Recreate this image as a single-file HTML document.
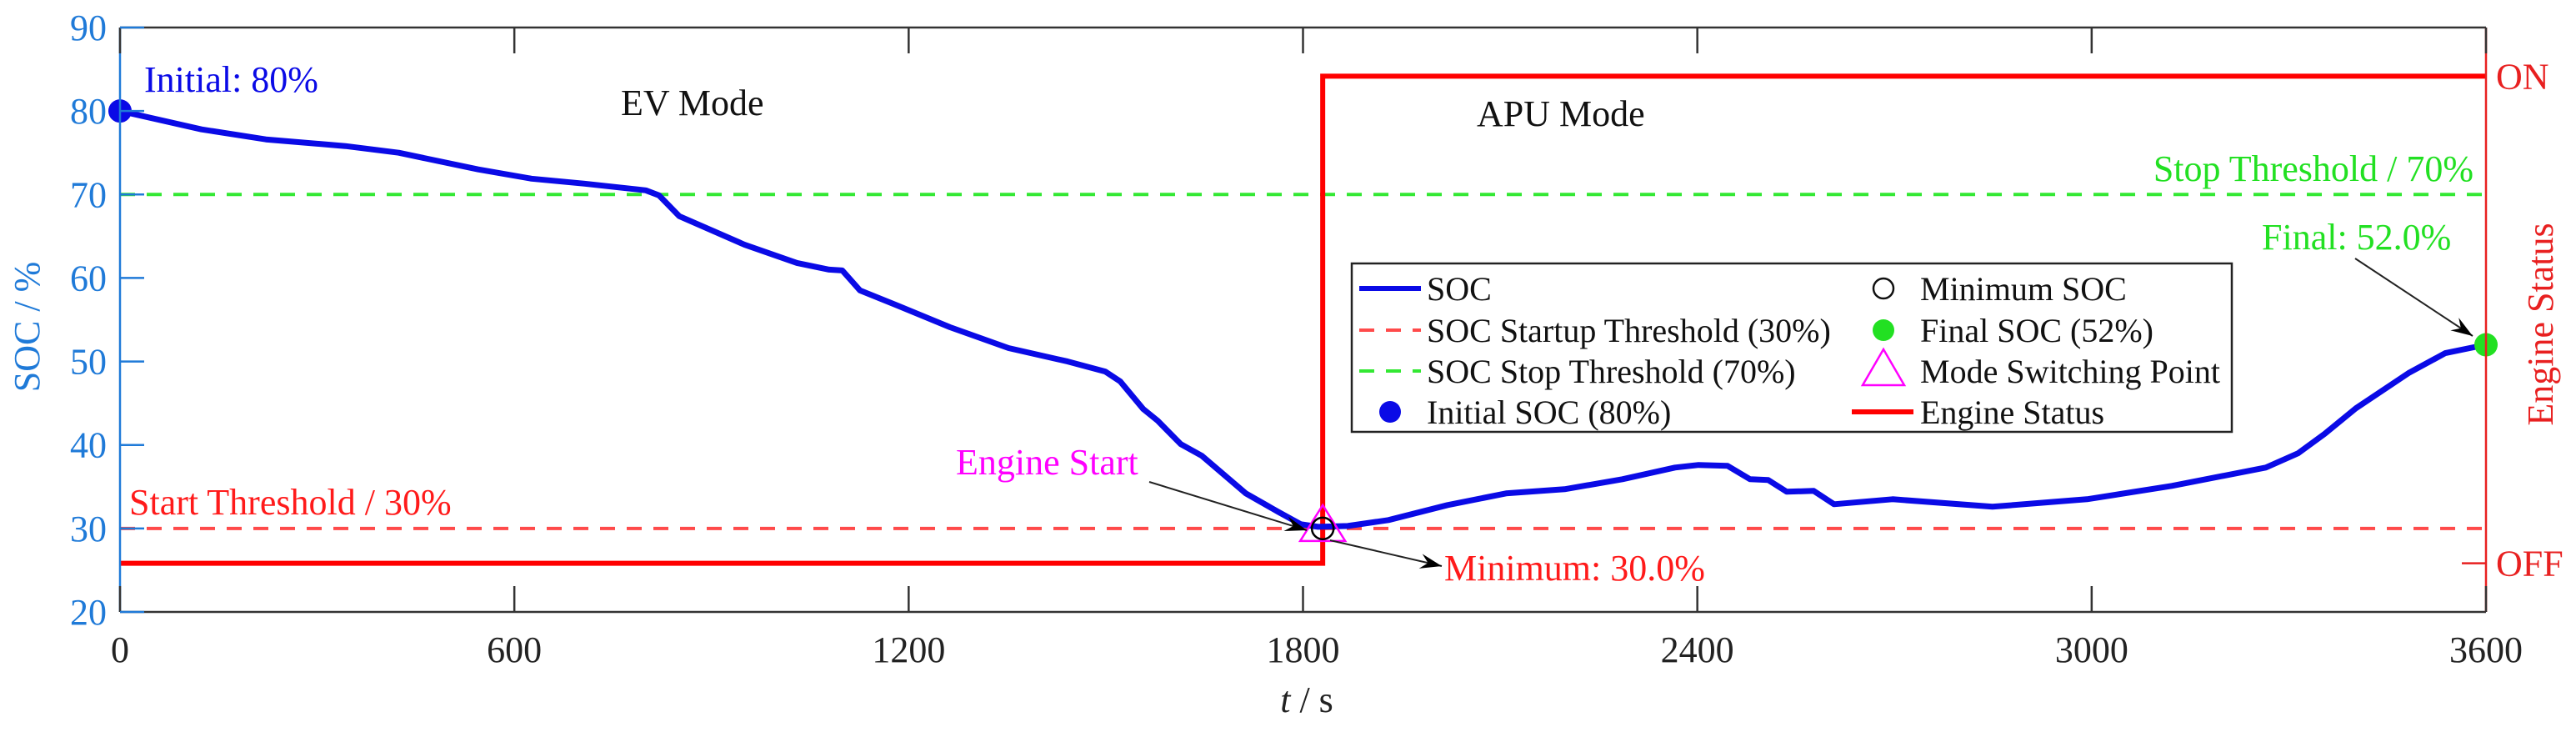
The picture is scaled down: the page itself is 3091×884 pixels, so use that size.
<!DOCTYPE html>
<html><head><meta charset="utf-8"><style>
html,body{margin:0;padding:0;background:#fff;}
svg{display:block;font-family:"Liberation Serif",serif;}
</style></head><body>
<svg id="chart" width="3091" height="884" viewBox="0 0 3091 884" xmlns="http://www.w3.org/2000/svg">
<g id="marks"></g>
</svg>
<script>
const timeS = [0,124,222,343,424,545,626,707,800,820,851,950,1030,1079,1099,1126,1183,1263,1352,1442,1499,1522,1557,1579,1614,1646,1713,1762,1797,1823,1868,1930,2020,2109,2198,2286,2366,2402,2446,2480,2508,2536,2577,2608,2697,2849,2993,3122,3265,3314,3354,3402,3482,3538,3600];
const socValues = [80,77.8,76.6,75.8,75.0,73.0,71.9,71.3,70.5,69.9,67.4,64.0,61.8,61.0,60.9,58.5,56.7,54.1,51.6,50.0,48.8,47.6,44.3,42.9,40.1,38.7,34.2,32.0,30.5,30.2,30.3,31.0,32.8,34.2,34.7,35.9,37.3,37.6,37.5,35.9,35.8,34.4,34.5,32.9,33.5,32.6,33.5,35.1,37.3,39.0,41.3,44.4,48.6,51.0,52.0];
const engineTimes = [0,1830,1830,3600];
const engineStates = [0,0,1,1];
const xTicks = [0,600,1200,1800,2400,3000,3600];
const yTicks = [20,30,40,50,60,70,80,90];
const thresholds = [30,70];
const switchTime = [1830];
const minSoc = [30];
const finalSoc = [52];
const initialSoc = [80];

const X0=144,X1=2983,Y0=734,Y1=33;
const sx=t=>X0+(t-0)/(3600)*(X1-X0);
const sy=v=>Y0-(v-20)/70*(Y0-Y1);
const sy2=v=>Y0-(v+0.1)/1.2*(Y0-Y1);
const NS="http://www.w3.org/2000/svg";
const g=document.getElementById('marks');
function mk(tag,attrs,parent){const e=document.createElementNS(NS,tag);for(const k in attrs)e.setAttribute(k,attrs[k]);(parent||g).appendChild(e);return e;}
function txt(s,attrs){const e=mk('text',attrs);e.textContent=s;return e;}

let e;
e=mk('line',{x1:X0,x2:X1,y1:sy(thresholds[0]),y2:sy(thresholds[0]),stroke:'#ff4a4a','stroke-width':4,'stroke-dasharray':'18 14'});


e=mk('line',{x1:X0,x2:X1,y1:sy(thresholds[1]),y2:sy(thresholds[1]),stroke:'#33e833','stroke-width':4,'stroke-dasharray':'18 14'});



let ep=engineTimes.map((t,i)=>sx(t)+','+sy2(engineStates[i])).join(' ');
e=mk('polyline',{points:ep,fill:'none',stroke:'#ff0000','stroke-width':6});



let sp=timeS.map((t,i)=>sx(t).toFixed(1)+','+sy(socValues[i]).toFixed(1)).join(' ');
e=mk('polyline',{points:sp,fill:'none',stroke:'#0a0ae6','stroke-width':7,'stroke-linejoin':'round'});



e=mk('circle',{cx:sx(0),cy:sy(initialSoc[0]),r:14,fill:'#0a0ae6'});


e=mk('circle',{cx:sx(3600),cy:sy(finalSoc[0]),r:14,fill:'#22e022'});


const mx=sx(switchTime[0]),my=sy(minSoc[0]);
e=mk('polygon',{points:`${mx},${my-28} ${mx-27},${my+15} ${mx+27},${my+15}`,fill:'none',stroke:'#ff00ff','stroke-width':2.5});


e=mk('circle',{cx:mx,cy:my,r:13,fill:'none',stroke:'#000','stroke-width':2.5});



e=mk('line',{x1:X0,x2:X1,y1:Y1,y2:Y1,stroke:'#333','stroke-width':2.5});


e=mk('line',{x1:X0,x2:X1,y1:Y0,y2:Y0,stroke:'#333','stroke-width':2.5});


e=mk('line',{x1:X0,x2:X0,y1:Y1,y2:Y0,stroke:'#1f7ad8','stroke-width':2.5});


e=mk('line',{x1:X1,x2:X1,y1:Y1,y2:Y0,stroke:'#e82020','stroke-width':2.5});



xTicks.forEach(t=>{
  e=mk('line',{x1:sx(t),x2:sx(t),y1:Y0,y2:Y0-31,stroke:'#333','stroke-width':2.5});
  
  
  e=mk('line',{x1:sx(t),x2:sx(t),y1:Y1,y2:Y1+31,stroke:'#333','stroke-width':2.5});
  
  
  e=txt(String(t),{x:sx(t),y:794,'font-size':44,'text-anchor':'middle',fill:'#222'});
  
  
});
yTicks.forEach(v=>{
  e=mk('line',{x1:X0,x2:X0+29,y1:sy(v),y2:sy(v),stroke:'#1f7ad8','stroke-width':2.5});
  
  
  e=txt(String(v),{x:128,y:sy(v)+15,'font-size':44,'text-anchor':'end',fill:'#1f7ad8'});
  
  
});
e=mk('line',{x1:X1,x2:X1-29,y1:sy2(0),y2:sy2(0),stroke:'#e82020','stroke-width':2.5});


e=txt('ON',{x:2995,y:sy2(1)+15,'font-size':44,fill:'#e82020'});


e=txt('OFF',{x:2995,y:sy2(0)+15,'font-size':44,fill:'#e82020'});



e=txt('SOC / %',{x:0,y:0,'font-size':44,'text-anchor':'middle',fill:'#1f7ad8',transform:'translate(47,392) rotate(-90)'});


e=txt('Engine Status',{x:0,y:0,'font-size':44,'text-anchor':'middle',fill:'#e82020',transform:'translate(3063,389) rotate(-90)'});


e=mk('text',{x:1568,y:854,'font-size':44,'text-anchor':'middle',fill:'#222'});
e.innerHTML='<tspan font-style="italic">t</tspan> / s';



function ann(s,x,y,fill,name){e=txt(s,{x:x,y:y,'font-size':44,fill:fill});}
ann('Initial: 80%',173,110,'#0a0ae6','initial-label');
ann('EV Mode',745,138,'#111','ev-mode-label');
ann('APU Mode',1772,151,'#111','apu-mode-label');
ann('Start Threshold / 30%',155,617,'#ff1a1a','start-threshold-label');
ann('Engine Start',1147,569,'#ff00ff','engine-start-label');
ann('Minimum: 30.0%',1733,696,'#ff1a1a','minimum-label');
e=txt('Stop Threshold / 70%',{x:2968,y:217,'font-size':44,'text-anchor':'end',fill:'#22e022'});


ann('Final: 52.0%',2714,299,'#22e022','final-label');

function arrow(x1,y1,x2,y2,name){
  e=mk('line',{x1:x1,y1:y1,x2:x2,y2:y2,stroke:'#222','stroke-width':2});
  
  
  const a=Math.atan2(y2-y1,x2-x1),L=26,W=9;
  const bx=x2-L*Math.cos(a),by=y2-L*Math.sin(a);
  const p=`${x2},${y2} ${bx+W*Math.sin(a)},${by-W*Math.cos(a)} ${bx+0.35*L*Math.cos(a)},${by+0.35*L*Math.sin(a)} ${bx-W*Math.sin(a)},${by+W*Math.cos(a)}`;
  e=mk('polygon',{points:p,fill:'#000'});
  
  
}
arrow(1379,578,1568,636,'engine-start-arrow');
arrow(1596,648,1730,679,'minimum-arrow');
arrow(2826,310,2967,403,'final-arrow');

const lg=mk('g',{});


e=mk('rect',{x:1622,y:316,width:1056,height:202,fill:'#fff',stroke:'#222','stroke-width':2.5},lg);


const rows=[346,396,445,494];
function ltxt(s,x,y,name){e=txt(s,{x:x,y:y+14,'font-size':40,fill:'#111'});lg.appendChild(e);}
e=mk('line',{x1:1631,x2:1705,y1:rows[0],y2:rows[0],stroke:'#0a0ae6','stroke-width':6},lg);


ltxt('SOC',1712,rows[0],'legend-soc');
e=mk('line',{x1:1631,x2:1705,y1:rows[1],y2:rows[1],stroke:'#ff4a4a','stroke-width':4,'stroke-dasharray':'18 14'},lg);


ltxt('SOC Startup Threshold (30%)',1712,rows[1],'legend-startup');
e=mk('line',{x1:1631,x2:1705,y1:rows[2],y2:rows[2],stroke:'#33e833','stroke-width':4,'stroke-dasharray':'18 14'},lg);


ltxt('SOC Stop Threshold (70%)',1712,rows[2],'legend-stop');
e=mk('circle',{cx:1668,cy:rows[3],r:13,fill:'#0a0ae6'},lg);


ltxt('Initial SOC (80%)',1712,rows[3],'legend-initial');
e=mk('circle',{cx:2260,cy:rows[0],r:12,fill:'none',stroke:'#111','stroke-width':2.5},lg);


ltxt('Minimum SOC',2304,rows[0],'legend-minimum');
e=mk('circle',{cx:2260,cy:rows[1],r:13,fill:'#22e022'},lg);


ltxt('Final SOC (52%)',2304,rows[1],'legend-final');
e=mk('polygon',{points:`2260,${rows[2]-26} 2235,${rows[2]+17} 2285,${rows[2]+17}`,fill:'none',stroke:'#ff00ff','stroke-width':2.5},lg);


ltxt('Mode Switching Point',2304,rows[2],'legend-switch');
e=mk('line',{x1:2222,x2:2296,y1:rows[3],y2:rows[3],stroke:'#ff0000','stroke-width':6},lg);


ltxt('Engine Status',2304,rows[3],'legend-engine');
</script>
</body></html>
